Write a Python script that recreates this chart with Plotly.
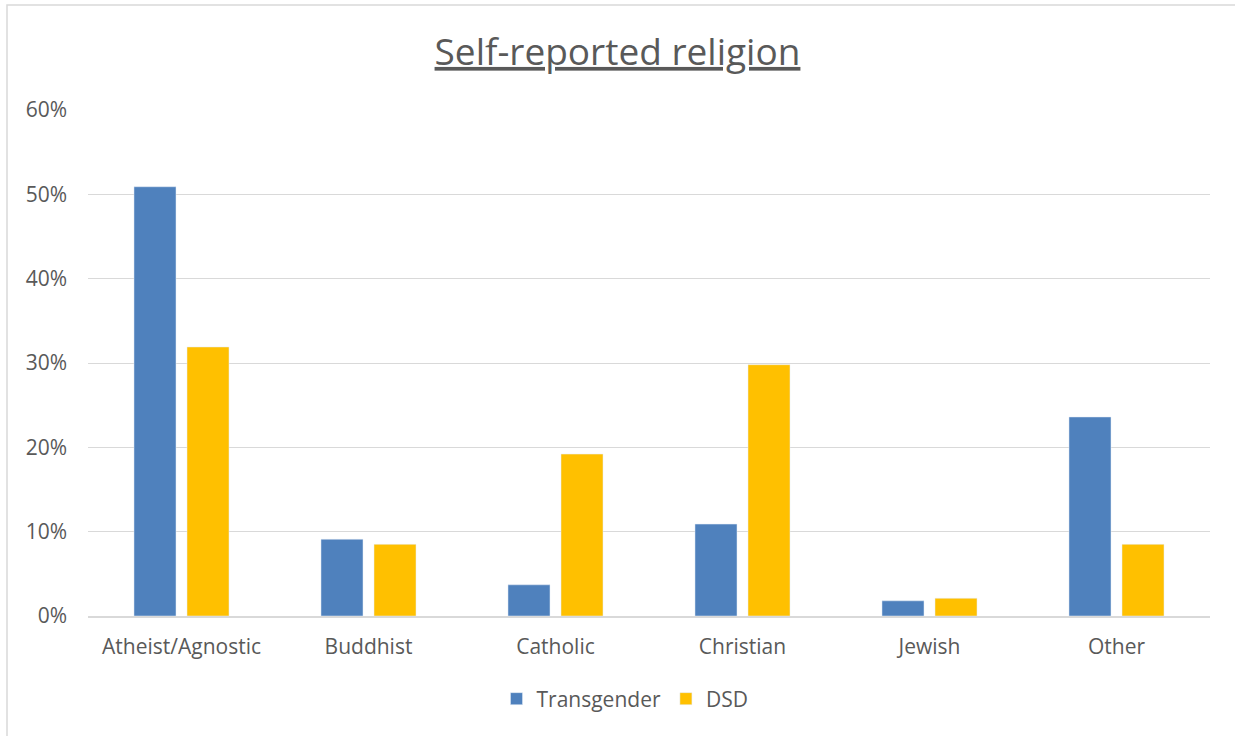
import plotly.graph_objects as go

categories = ["Atheist/Agnostic", "Buddhist", "Catholic", "Christian", "Jewish", "Other"]
transgender = [0.509, 0.091, 0.037, 0.109, 0.018, 0.236]
dsd = [0.319, 0.085, 0.192, 0.298, 0.021, 0.085]
y_ticks = [0, 0.1, 0.2, 0.3, 0.4, 0.5, 0.6]
y_tick_labels = ["0%", "10%", "20%", "30%", "40%", "50%", "60%"]

W, H = 1235, 736
L, R, T, B = 88, 25, 110, 120
pw, ph = W - L - R, H - T - B

fnt = "Open Sans, Liberation Sans, sans-serif"
gray = "#595959"

fig = go.Figure()
fig.add_trace(go.Bar(name="Transgender", x=categories, y=transgender, marker_color="#4f81bd"))
fig.add_trace(go.Bar(name="DSD", x=categories, y=dsd, marker_color="#ffc000"))

fig.update_layout(
    width=W, height=H,
    margin=dict(l=L, r=R, t=T, b=B, autoexpand=False),
    paper_bgcolor="white", plot_bgcolor="white",
    barmode="group", bargap=0.433, bargroupgap=0.2075,
    title=dict(text="<u>Self-reported religion</u>", x=0.5, xanchor="center",
               y=1 - 52 / H, yanchor="middle",
               font=dict(family=fnt, size=37, color=gray)),
    font=dict(family=fnt, color=gray),
    showlegend=True,
    legend=dict(orientation="h", x=0.5 - 24 / pw, xanchor="center", y=-(699 - (T + ph)) / ph, yanchor="middle",
                font=dict(family=fnt, size=21, color=gray), traceorder="normal",
                itemwidth=30),
    xaxis=dict(showgrid=False, showline=True, linecolor="#d9d9d9", linewidth=2,
               tickfont=dict(family=fnt, size=21, color=gray), ticks="", ticklabelstandoff=11),
    yaxis=dict(range=[0, 0.6], tickvals=y_ticks, ticktext=y_tick_labels,
               showgrid=True, gridcolor="#d9d9d9", gridwidth=1.3, zeroline=False,
               showline=False, ticks="",
               tickfont=dict(family=fnt, size=21, color=gray), ticklabelstandoff=20),
    shapes=[dict(type="rect", xref="paper", yref="paper",
                 x0=(7 - L) / pw, x1=(W + 20 - L) / pw,
                 y0=-(H + 20 - T - ph) / ph, y1=(H - B - 5) / ph,
                 line=dict(color="#d9d9d9", width=1.5), fillcolor="rgba(0,0,0,0)", layer="below")],
)

fig.write_html("out.html", config={"displayModeBar": False},
               post_script="document.body.style.margin='0';")
